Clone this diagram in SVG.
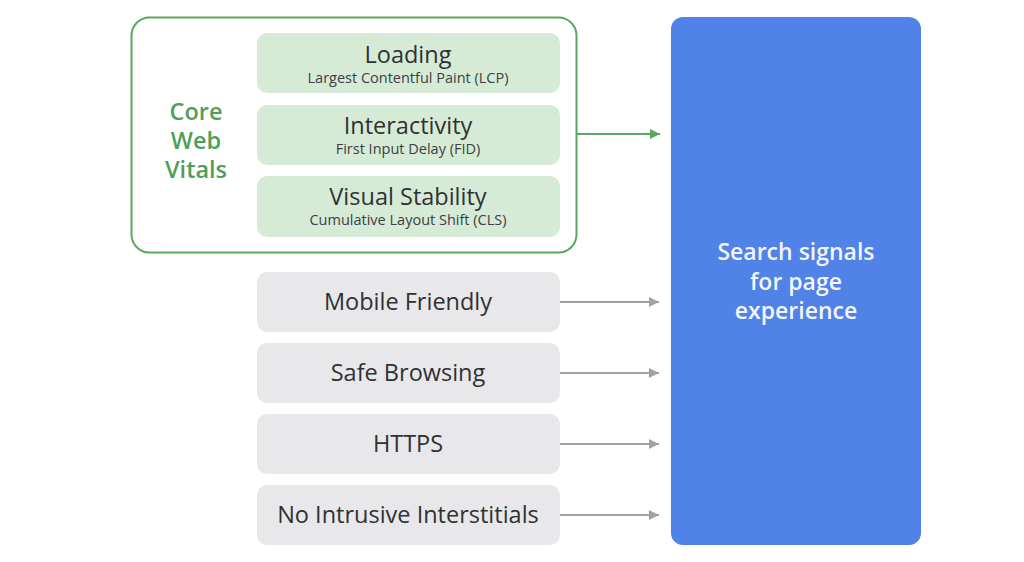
<svg xmlns="http://www.w3.org/2000/svg" width="1024" height="562" viewBox="0 0 1024 562">
<defs>
<marker id="ag" viewBox="0 0 10 10" refX="10" refY="5" markerWidth="10" markerHeight="10" markerUnits="userSpaceOnUse" orient="auto"><path d="M0,0 L10,5 L0,10 z" fill="#58a85e"/></marker>
<marker id="ay" viewBox="0 0 10 10" refX="10" refY="5" markerWidth="10" markerHeight="10" markerUnits="userSpaceOnUse" orient="auto"><path d="M0,0 L10,5 L0,10 z" fill="#a2a2a6"/></marker>
<style>
text{font-family:"Open Sans","Liberation Sans",sans-serif;text-anchor:middle}
.g{fill:#d6ebd6}
.y{fill:#e8e8ea}
.t{font-size:23.5px;fill:#303134;font-weight:500}
.s{font-size:14.5px;fill:#3c4043}
.cw{font-size:23.5px;fill:#4e9f58;font-weight:600}
.w{font-size:23px;fill:#f3f5fc;font-weight:600}
</style>
</defs>
<rect width="1024" height="562" fill="#fff"/>
<g id="core-web-vitals">
<rect x="131.5" y="17.5" width="445" height="235" rx="18" fill="none" stroke="#58a85e" stroke-width="2"/>
<text class="cw" x="196" y="120">Core</text>
<text class="cw" x="196" y="149">Web</text>
<text class="cw" x="196" y="178">Vitals</text>
</g>
<g id="loading"><rect class="g" x="257" y="33" width="303" height="60" rx="10"/><text class="t" x="408" y="63">Loading</text><text class="s" x="408" y="83">Largest Contentful Paint (LCP)</text></g>
<g id="interactivity"><rect class="g" x="257" y="105" width="303" height="60" rx="10"/><text class="t" x="408" y="134">Interactivity</text><text class="s" x="408" y="154">First Input Delay (FID)</text></g>
<g id="visual-stability"><rect class="g" x="257" y="176" width="303" height="61" rx="10"/><text class="t" x="408" y="205">Visual Stability</text><text class="s" x="408" y="225">Cumulative Layout Shift (CLS)</text></g>
<g id="mobile-friendly"><rect class="y" x="257" y="272" width="303" height="60" rx="10"/><text class="t" x="408" y="310">Mobile Friendly</text></g>
<g id="safe-browsing"><rect class="y" x="257" y="343" width="303" height="60" rx="10"/><text class="t" x="408" y="381">Safe Browsing</text></g>
<g id="https"><rect class="y" x="257" y="414" width="303" height="60" rx="10"/><text class="t" x="408" y="452">HTTPS</text></g>
<g id="no-intrusive"><rect class="y" x="257" y="485" width="303" height="60" rx="10"/><text class="t" x="408" y="523">No Intrusive Interstitials</text></g>
<g id="search-signals">
<rect x="671" y="17" width="250" height="528" rx="12" fill="#5082e8"/>
<text class="w" x="796" y="260">Search signals</text>
<text class="w" x="796" y="290">for page</text>
<text class="w" x="796" y="319">experience</text>
</g>
<g id="connectors" fill="none" stroke-width="2">
<line x1="577" y1="134" x2="660" y2="134" stroke="#58a85e" marker-end="url(#ag)"/>
<line x1="560" y1="302" x2="659" y2="302" stroke="#a2a2a6" marker-end="url(#ay)"/>
<line x1="560" y1="373" x2="659" y2="373" stroke="#a2a2a6" marker-end="url(#ay)"/>
<line x1="560" y1="444" x2="659" y2="444" stroke="#a2a2a6" marker-end="url(#ay)"/>
<line x1="560" y1="515" x2="659" y2="515" stroke="#a2a2a6" marker-end="url(#ay)"/>
</g>
</svg>
